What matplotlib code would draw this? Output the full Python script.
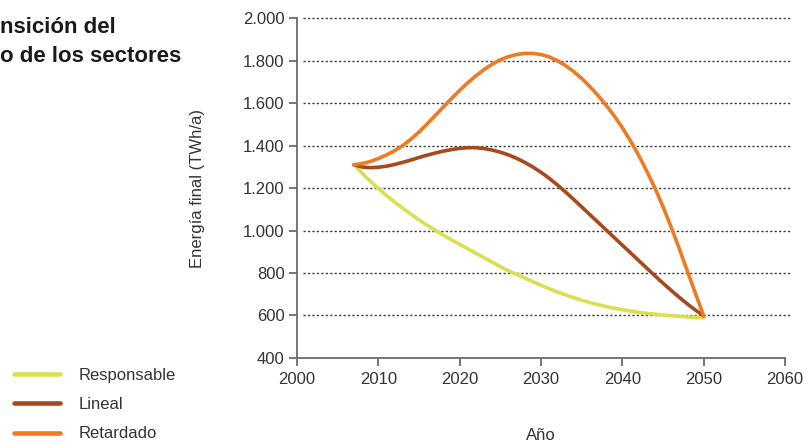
import matplotlib
matplotlib.use("Agg")
import matplotlib.pyplot as plt

# years
years = list(range(2007, 2051))

responsable = [1310, 1270, 1233, 1198, 1165, 1134, 1105, 1077, 1050, 1025,
               1001, 978, 956, 935, 914, 893, 872, 851, 830, 810,
               793, 776, 759, 742, 726, 711, 697, 684, 672, 661,
               651, 642, 634, 627, 621, 615, 610, 606, 602, 599,
               596, 593, 591, 589]

lineal = [1310, 1299, 1296, 1298, 1303, 1311, 1321, 1332, 1344, 1355,
          1365, 1374, 1381, 1387, 1390, 1390, 1386, 1379, 1369, 1356,
          1340, 1321, 1299, 1274, 1246, 1215, 1182, 1147, 1111, 1075,
          1039, 1003, 967, 931, 895, 859, 823, 787, 752, 718,
          685, 654, 625, 598]

retardado = [1310, 1315, 1325, 1339, 1356, 1376, 1400, 1430, 1464, 1502,
             1542, 1582, 1622, 1660, 1696, 1729, 1758, 1783, 1804, 1819,
             1829, 1834, 1834, 1829, 1818, 1800, 1777, 1749, 1716, 1678,
             1636, 1590, 1540, 1484, 1422, 1354, 1280, 1200, 1112, 1016,
             914, 808, 702, 598]

series_names = ["Responsable", "Lineal", "Retardado"]
series_colors = ["#dadf4f", "#a64a1d", "#ef7a22"]

xticks = [2000, 2010, 2020, 2030, 2040, 2050, 2060]
yticks = [400, 600, 800, 1000, 1200, 1400, 1600, 1800, 2000]
ytick_labels = ["400", "600", "800", "1.000", "1.200", "1.400", "1.600", "1.800", "2.000"]

plt.rcParams["font.family"] = ["Liberation Sans", "DejaVu Sans"]
text_color = "#333333"
axis_color = "#6b6b6b"

fig = plt.figure(figsize=(8.06, 4.43), dpi=100)
ax = fig.add_axes([0.3685, 0.192, 0.6055, 0.767])

for vals, name, col in zip([responsable, lineal, retardado], series_names, series_colors):
    ax.plot(years, vals, color=col, lw=2.6, label=name,
            solid_capstyle="round", solid_joinstyle="round", zorder=3)

# dotted grid lines, running a little past the last tick
ax.hlines(yticks[1:], 2000.7, 2060.7, colors="#3a3a3a", linestyles=(0, (1.6, 1.6)),
          lw=1.0, clip_on=False, zorder=1)

ax.set_xlim(2000, 2060)
ax.set_ylim(400, 2000)
ax.set_xticks(xticks)
ax.set_yticks(yticks)
ax.set_yticklabels(ytick_labels)

for s in ["top", "right"]:
    ax.spines[s].set_visible(False)
for s in ["left", "bottom"]:
    ax.spines[s].set_color(axis_color)
    ax.spines[s].set_linewidth(1.3)

ax.tick_params(axis="both", colors=axis_color, labelcolor=text_color,
               labelsize=12, width=1.3, length=6, direction="out")
ax.tick_params(axis="y", pad=3)
ax.tick_params(axis="x", pad=4)

ax.set_ylabel("Energía final (TWh/a)", fontsize=12, color=text_color, labelpad=27)
ax.set_xlabel("Año", fontsize=12, color=text_color, labelpad=30)

# the title is cut by the left edge in the source picture
fig.text(0.0, 1 - 33 / 443, "nsición del", ha="left", va="baseline",
         fontsize=16, fontweight="bold", color="#1a1a1a")
fig.text(0.0, 1 - 62 / 443, "o de los sectores", ha="left", va="baseline",
         fontsize=16, fontweight="bold", color="#1a1a1a")

leg = fig.legend(loc="lower left", bbox_to_anchor=(0.005, -0.019), frameon=False,
                 fontsize=12, handlelength=2.78, handletextpad=1.12, labelspacing=0.85,
                 borderaxespad=0.2, labelcolor=text_color)
for h in leg.legend_handles:
    h.set_linewidth(3.3)

fig.savefig("out.png", dpi=100)
